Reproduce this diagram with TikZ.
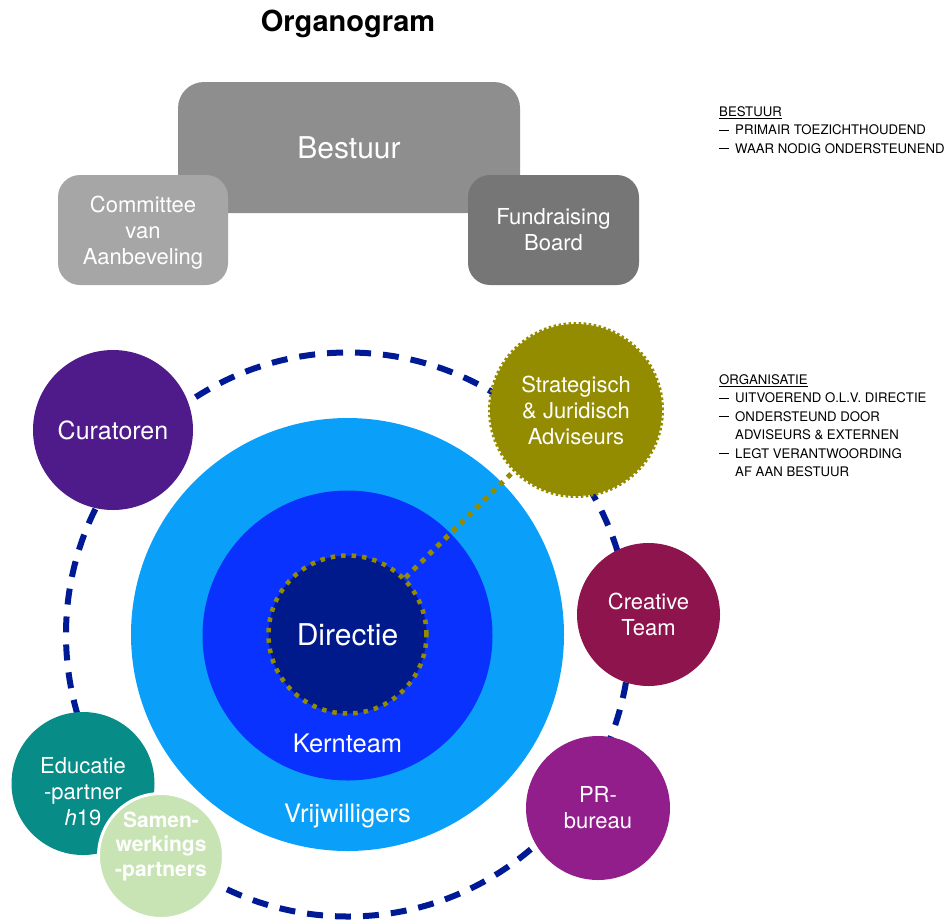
\documentclass[tikz,border=0pt]{standalone}
\usepackage{fontspec}
\setmainfont{TeX Gyre Heros}
\usetikzlibrary{positioning}
\definecolor{grijsmid}{HTML}{8E8E8E}
\definecolor{grijslicht}{HTML}{A6A6A6}
\definecolor{grijsdonker}{HTML}{767676}
\definecolor{vrijblauw}{HTML}{0AA0FA}
\definecolor{kernblauw}{HTML}{0A32FF}
\definecolor{dirblauw}{HTML}{001A8C}
\definecolor{randblauw}{HTML}{001A96}
\definecolor{olijf}{HTML}{948C00}
\definecolor{curpaars}{HTML}{4F1A8A}
\definecolor{creatrood}{HTML}{8E144E}
\definecolor{prpaars}{HTML}{921E8C}
\definecolor{eduteal}{HTML}{088C88}
\definecolor{samengroen}{HTML}{C8E4B4}
\newcommand{\streep}{\rule[3.6pt]{10pt}{1pt}\hspace{6pt}}
\newcommand{\inspring}{\hspace{16pt}}

\begin{document}
\begin{tikzpicture}[x=1pt,y=-1pt,
		box/.style={rounded corners=22pt, text=white, align=center, inner sep=0pt},
		bol/.style={circle, text=white, align=center, inner sep=0pt},
		tekst/.style={font=\fontsize{22}{26}\selectfont},
		notitie/.style={anchor=north west, align=left, inner sep=0pt, font=\fontsize{13.2}{18.5}\selectfont}]
			\useasboundingbox (0,0) rectangle (945,919);
			% Title
			\node (titel) at (348,24) {\fontsize{29}{32}\selectfont\bfseries Organogram};
			
			% Bestuur
			\node[box, fill=grijsmid, rounded corners=26pt, minimum width=342pt, minimum height=131pt,
				font=\fontsize{30}{34}\selectfont] (bestuur) at (349,147.5) {Bestuur};
			\node[box, tekst, fill=grijslicht, minimum width=170pt, minimum height=110pt, text depth=0pt] (comite) at (143,230)
				{Committee\\van\\Aanbeveling};
			\node[box, tekst, fill=grijsdonker, minimum width=171pt, minimum height=110pt] (fundraising) at (553.5,230)
				{Fundraising\\Board};
			
			% Notes
			\node[notitie] (notabestuur) at (719,106)
				{\underline{BESTUUR}\\ \streep PRIMAIR TOEZICHTHOUDEND\\ \streep WAAR NODIG ONDERSTEUNEND};
			\node[notitie] (notaorganisatie) at (719,374)
				{\underline{ORGANISATIE}\\ \streep UITVOEREND O.L.V. DIRECTIE\\ \streep ONDERSTEUND DOOR\\
				\inspring ADVISEURS \& EXTERNEN\\ \streep LEGT VERANTWOORDING\\ \inspring AF AAN BESTUUR};
			
			% Organisatie
			\node[circle, draw=randblauw, line width=6pt, dash pattern=on 16pt off 12pt, minimum size=564pt] (organisatie) at (348,634.5) {};
			\node[bol, fill=vrijblauw, minimum size=433pt] (vrijwilligers) at (347.5,634.5) {};
			\node[bol, fill=kernblauw, minimum size=290pt] (kernteam) at (347.5,635.5) {};
			\node[bol, fill=dirblauw, draw=olijf, line width=4.5pt, dash pattern=on 4.5pt off 6pt, minimum size=158pt,
				font=\fontsize{30}{34}\selectfont] (directie) at (347.5,634.5) {Directie};
			\node[text=white, font=\fontsize{25.5}{28}\selectfont, inner sep=0pt, above=28pt of kernteam.south] (kerntekst) {Kernteam};
			\node[text=white, font=\fontsize{25.5}{28}\selectfont, inner sep=0pt, above=23pt of vrijwilligers.south] (vrijtekst) {Vrijwilligers};
			
			% Adviseurs and teams
			\node[bol, tekst, fill=olijf, draw=olijf, line width=4pt, dash pattern=on 2.5pt off 2.5pt, minimum size=172pt] (strategisch) at (576,410)
				{Strategisch\\\& Juridisch\\Adviseurs};
			\draw[olijf, line width=5pt, dash pattern=on 5pt off 6pt] (directie) -- (strategisch);
			\node[bol, fill=curpaars, minimum size=160pt, font=\fontsize{25}{28}\selectfont] (curatoren) at (113,430) {Curatoren};
			\node[bol, tekst, fill=creatrood, minimum size=143pt] (creative) at (648.5,614.5) {Creative\\Team};
			\node[bol, tekst, fill=prpaars, minimum size=144pt] (prbureau) at (598,808) {PR-\\bureau};
			\node[bol, tekst, fill=eduteal, minimum size=143pt] (educatie) at (83,783.5) {};
			\node[text=white, tekst, align=center, inner sep=0pt] (edutekst) at (83,792) {Educatie\\-partner\\\textit{h}19};
			\node[bol, fill=samengroen, draw=white, line width=3pt, minimum size=125pt] (samenwerking) at (161,856) {};
			\node[text=white, align=center, inner sep=0pt, font=\fontsize{21}{24.5}\selectfont\bfseries] (samentekst) at (161,846)
				{Samen-\\werkings\\-partners};
			
		\end{tikzpicture}
\end{document}
